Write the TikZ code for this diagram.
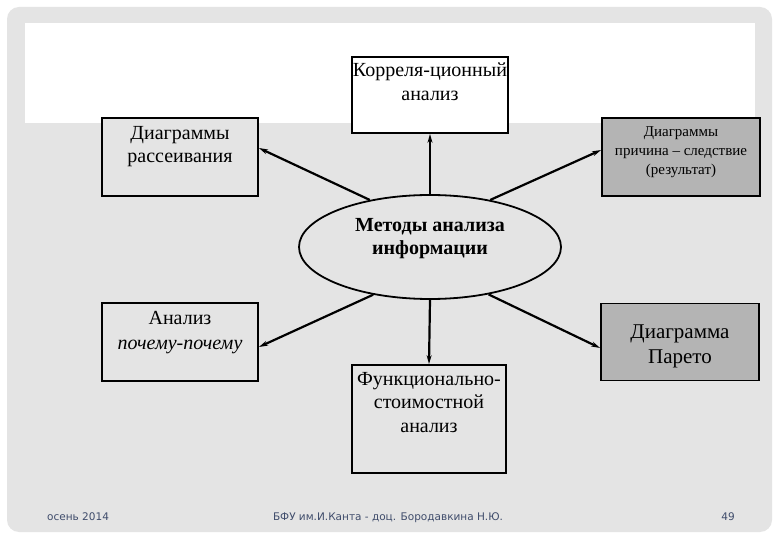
\documentclass[tikz,border=0pt]{standalone}
\usepackage{fontspec}
\setmainfont{Liberation Serif}
\newfontfamily\footfont{DejaVu Sans}
\usetikzlibrary{arrows.meta, positioning, calc, shapes.geometric}
\definecolor{slidegray}{HTML}{E4E4E4}
\definecolor{boxgray}{HTML}{B4B4B4}
\definecolor{footblue}{HTML}{3F4C6B}

\begin{document}
\begin{tikzpicture}[x=1pt, y=-1pt, every node/.style={font=\fontsize{20}{23.5}\selectfont},
  box/.style={draw, line width=1.8pt, fill=slidegray, inner sep=0pt},
  txt/.style={align=center, inner sep=0pt, anchor=north},
  link/.style={line width=2.2pt, -{Stealth[length=9pt, width=5pt]}},
  foot/.style={font=\footfont\fontsize{10.5}{12}\selectfont, text=footblue, inner sep=0pt}]
\useasboundingbox (0,0) rectangle (780,540);
% slide background
\fill[white] (0,0) rectangle (780,540);
\fill[slidegray, rounded corners=12pt] (7,7) rectangle (772,532);
\fill[white] (25,23) rectangle (755,123);

% boxes
\node[box, fill=white, minimum width=156pt, minimum height=76pt] (kor) at (430,95) {};
\node[box, minimum width=156pt, minimum height=78pt] (ras) at (180,157) {};
\node[box, fill=boxgray, minimum width=158pt, minimum height=78pt] (pri) at (681,157) {};
\node[box, ellipse, minimum width=262pt, minimum height=104pt] (meth) at (430,247) {};
\node[box, minimum width=156pt, minimum height=78pt] (poc) at (180,342) {};
\node[box, fill=boxgray, minimum width=158pt, minimum height=77pt] (par) at (680,342) {};
\node[box, minimum width=154pt, minimum height=108pt] (fun) at (429,419) {};

% texts
\node[txt, below=7pt of kor.north] (korT) {Корреля-ционный\\анализ};
\node[txt, below=9pt of ras.north] (rasT) {Диаграммы\\рассеивания};
\node[txt, below=9pt of pri.north, font=\fontsize{15}{19}\selectfont] (priT) {Диаграммы\\причина – следствие\\(результат)};
\node[txt, below=24pt of meth.north, font=\bfseries\fontsize{20}{23.5}\selectfont] (methT) {Методы анализа\\информации};
\node[txt, below=9pt of poc.north, font=\fontsize{20}{25}\selectfont] (pocT) {Анализ\\\textit{почему-почему}};
\node[txt, below=22pt of par.north, font=\fontsize{21}{25}\selectfont] (parT) {Диаграмма\\Парето};
\node[txt, below=8pt of fun.north] (funT) {Функционально-\\стоимостной\\анализ};

% connectors
\draw[link] (meth.north) -- (kor.south);
\draw[link] (meth.142) -- ([yshift=9pt]ras.east);
\draw[link] (meth.38) -- ([yshift=7pt]pri.west);
\draw[link] (meth.220) -- ([yshift=-5pt]poc.east);
\draw[link] (meth.-39) -- ([yshift=-6pt]par.west);
\draw[link] (meth.south) -- (fun.north);

% footer
\node[foot, anchor=base west] (season) at (47,520) {осень 2014};
\node[foot, anchor=base] (inst) at (388,520) {БФУ им.И.Канта - доц. Бородавкина Н.Ю.};
\node[foot, anchor=base] (page) at (728,520) {49};
\end{tikzpicture}
\end{document}
